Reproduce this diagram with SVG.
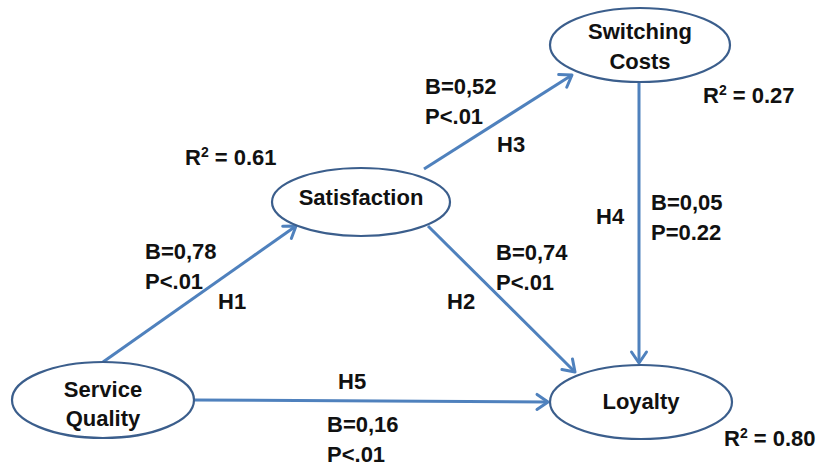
<svg xmlns="http://www.w3.org/2000/svg" width="819" height="467" viewBox="0 0 819 467">
<defs>
<marker id="arr" markerUnits="userSpaceOnUse" markerWidth="20" markerHeight="20" viewBox="0 0 20 20" refX="16" refY="10" orient="auto">
<path d="M5,2.5 L16,10 L5,17.5" fill="none" stroke="#4F81BD" stroke-width="3" stroke-linecap="round" stroke-linejoin="round"/>
</marker>
</defs>
<style>
.node ellipse{fill:#fff;stroke:#3B5E8C;stroke-width:2.2}
.edge{fill:none;stroke:#4F81BD;stroke-width:3;marker-end:url(#arr)}
text{font-family:"Liberation Sans",Arial,sans-serif;font-weight:bold;font-size:22px;fill:#111}
.c{text-anchor:middle}
.sup{font-size:14px}
</style>
<rect width="819" height="467" fill="#fff"/>
<g id="connectors">
<line class="edge" x1="103" y1="362" x2="296" y2="226"/>
<line class="edge" x1="424" y1="169" x2="572" y2="75"/>
<line class="edge" x1="428" y1="226" x2="575" y2="372"/>
<line class="edge" x1="639" y1="83" x2="639" y2="363"/>
<line class="edge" x1="194" y1="400" x2="548" y2="402"/>
</g>
<g id="service-quality" class="node">
<ellipse cx="103" cy="400" rx="91" ry="38"/>
<text class="c" x="103" y="397">Service</text>
<text class="c" x="103" y="426">Quality</text>
</g>
<g id="satisfaction" class="node">
<ellipse cx="361" cy="202" rx="89" ry="34"/>
<text class="c" x="361" y="205">Satisfaction</text>
</g>
<g id="switching-costs" class="node">
<ellipse cx="640" cy="45" rx="90" ry="37"/>
<text class="c" x="640" y="39">Switching</text>
<text class="c" x="640" y="69">Costs</text>
</g>
<g id="loyalty" class="node">
<ellipse cx="641" cy="402" rx="91" ry="37"/>
<text class="c" x="641" y="409">Loyalty</text>
</g>
<g id="labels">
<text x="145" y="259">B=0,78</text>
<text x="145" y="289">P&lt;.01</text>
<text x="218" y="309">H1</text>
<text x="425" y="94">B=0,52</text>
<text x="425" y="124">P&lt;.01</text>
<text x="497" y="152">H3</text>
<text x="496" y="260">B=0,74</text>
<text x="496" y="290">P&lt;.01</text>
<text x="447" y="309">H2</text>
<text x="596" y="224">H4</text>
<text x="651" y="210">B=0,05</text>
<text x="651" y="240">P=0.22</text>
<text x="338" y="389">H5</text>
<text x="327" y="432">B=0,16</text>
<text x="327" y="462">P&lt;.01</text>
<text x="185" y="165">R<tspan class="sup" dy="-8">2</tspan><tspan dy="8"> = 0.61</tspan></text>
<text x="703" y="103">R<tspan class="sup" dy="-8">2</tspan><tspan dy="8"> = 0.27</tspan></text>
<text x="724" y="446">R<tspan class="sup" dy="-8">2</tspan><tspan dy="8"> = 0.80</tspan></text>
</g>
</svg>
